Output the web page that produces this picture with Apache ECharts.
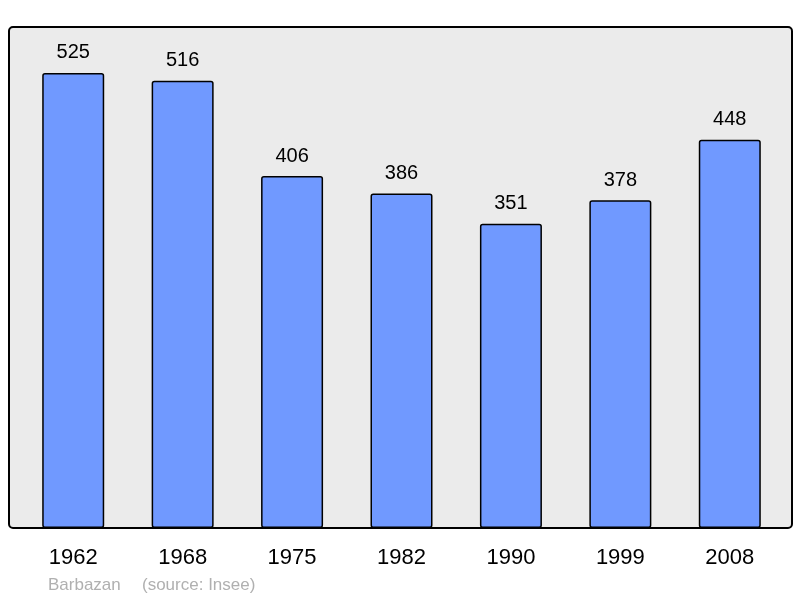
<!DOCTYPE html>
<html><head><meta charset="utf-8">
<script src="https://cdn.jsdelivr.net/npm/echarts@6/dist/echarts.min.js"></script>
<style>html,body{margin:0;padding:0;background:#fff}#c{width:800px;height:598px}</style>
</head><body><div id="c"></div>
<script>
const years = ['1962','1968','1975','1982','1990','1999','2008'];
const population = [525, 516, 406, 386, 351, 378, 448];
const townName = 'Barbazan';
const sourceText = '(source: Insee)';

const chart = echarts.init(document.getElementById('c'), null, {renderer:'canvas'});
chart.setOption({
  animation:false,
  backgroundColor:'#ffffff',
  textStyle:{fontFamily:'Liberation Sans, Arial, sans-serif'},
  grid:{left:18.5,right:15.5,top:27,bottom:70},
  xAxis:{type:'category',data:years,axisLine:{show:false},axisTick:{show:false},
    axisLabel:{margin:19,fontSize:22,color:'#000',fontFamily:'Liberation Sans'}},
  yAxis:{type:'value',min:0,max:578,show:false,splitLine:{show:false}},
  graphic:[
    {type:'rect',z:-10,shape:{x:9,y:27,width:783,height:501,r:4},
     style:{fill:'#ebebeb',stroke:'#000',lineWidth:2}},
    {type:'text',left:48,top:577,style:{text:townName,fill:'#b0b0b0',fontSize:17,fontFamily:'Liberation Sans'}},
    {type:'text',left:142,top:577,style:{text:sourceText,fill:'#b0b0b0',fontSize:17,fontFamily:'Liberation Sans'}}
  ],
  series:[{type:'bar',data:population,barWidth:62,
    itemStyle:{color:'#7099ff',borderColor:'#000',borderWidth:1.5,borderRadius:2},
    label:{show:true,position:'top',distance:10,fontSize:20,color:'#000',fontFamily:'Liberation Sans'}}]
});
</script></body></html>
